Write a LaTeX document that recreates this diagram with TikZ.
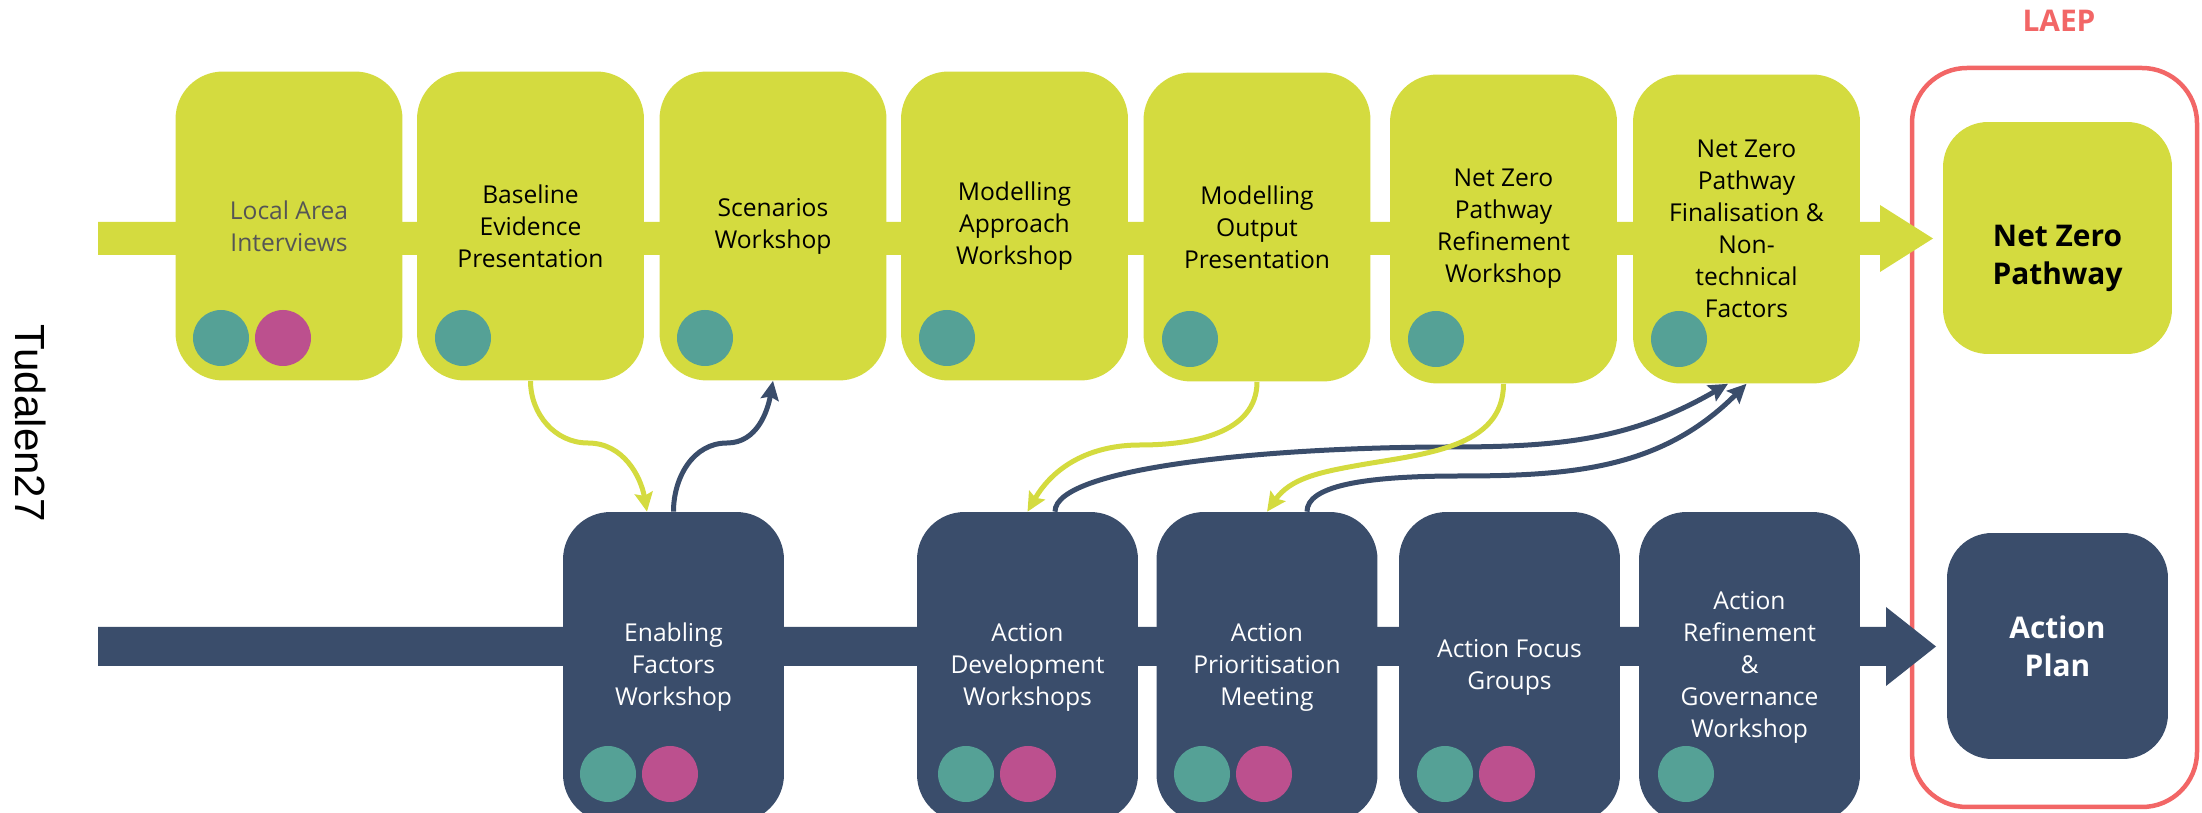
\documentclass[tikz,border=0pt]{standalone}
\usepackage{fontspec}
\setmainfont{Open Sans}
\newfontfamily\tudfont{Liberation Sans}
\usetikzlibrary{arrows.meta}

\definecolor{stagelime}{RGB}{212,219,63}
\definecolor{stagenavy}{RGB}{58,77,107}
\definecolor{dotteal}{RGB}{85,161,150}
\definecolor{dotpink}{RGB}{188,80,142}
\definecolor{laepred}{RGB}{242,102,102}
\definecolor{greytext}{RGB}{85,85,85}

\tikzset{
    stage/.style={rounded corners=0.95cm, align=center, inner sep=0pt,
        font=\fontsize{14}{18.2}\selectfont},
    topstage/.style={stage, fill=stagelime, minimum width=4.54cm, minimum height=6.18cm},
    botstage/.style={stage, fill=stagenavy, text=white, minimum width=4.42cm, minimum height=6.2cm},
    result/.style={rounded corners=0.9cm, align=center, inner sep=0pt,
        font=\fontsize{17}{21.6}\selectfont\bfseries},
    link/.style={line width=0.1cm, -{Stealth[length=0.38cm,width=0.36cm,inset=0.06cm]}},
}

\begin{document}
\begin{tikzpicture}[x=0.02cm,y=-0.02cm]
    \useasboundingbox (0,0) rectangle (2202,813);
    % LAEP frame and side label
    \draw[laepred, line width=0.09cm, rounded corners=1.1cm] (1912,68) rectangle (2197,807);
    \node[text=laepred, font=\fontsize{17}{20}\selectfont\bfseries] (laep) at (2059,21) {LAEP};
    \node[font=\fontsize{24}{28}\selectfont\tudfont, rotate=-90] (tud) at (31,423) {Tudalen27};
    % timeline arrows
    \fill[stagelime] (98,222) -- (1880,222) -- (1880,205) -- (1933,238.5) -- (1880,272) -- (1880,255) -- (98,255) -- cycle;
    \fill[stagenavy] (98,627) -- (1886,627) -- (1886,607) -- (1936,646.5) -- (1886,686) -- (1886,666) -- (98,666) -- cycle;
    % top row
    \node[topstage, text=greytext] (lai) at (289,226) {Local Area\\Interviews};
    \node[topstage] (bep) at (530.5,226) {Baseline\\Evidence\\Presentation};
    \node[topstage] (ssw) at (773,226) {Scenarios\\Workshop};
    \node[topstage] (maw) at (1014.5,226) {Modelling\\Approach\\Workshop};
    \node[topstage] (mop) at (1257,227) {Modelling\\Output\\Presentation};
    \node[topstage] (nzr) at (1503.5,229) {Net Zero\\Pathway\\Refinement\\Workshop};
    \node[topstage] (nzf) at (1746.5,229) {Net Zero\\Pathway\\Finalisation \&\\Non-\\technical\\Factors};
    % bottom row
    \node[botstage] (efw) at (673.5,667) {Enabling\\Factors\\Workshop};
    \node[botstage] (adw) at (1027.5,667) {Action\\Development\\Workshops};
    \node[botstage] (apm) at (1267,667) {Action\\Prioritisation\\Meeting};
    \node[botstage] (afg) at (1509.5,667) {Action Focus\\Groups};
    \node[botstage] (arg) at (1749.5,667) {Action\\Refinement\\\&\\Governance\\Workshop};
    % outputs
    \node[result, fill=stagelime, minimum width=4.58cm, minimum height=4.64cm] (nzp) at (2057.5,238) {};
    \node[result] (nzptext) at (2057.5,258) {Net Zero\\Pathway};
    \node[result, fill=stagenavy, text=white, minimum width=4.42cm, minimum height=4.52cm] (apl) at (2057.5,646) {Action\\Plan};
    % stakeholder dots
    \fill[dotteal] (221,338) circle (28) (463,338) circle (28) (705,338) circle (28) (947,338) circle (28)
        (1190,339) circle (28) (1436,339) circle (28) (1679,339) circle (28);
    \fill[dotpink] (283,338) circle (28);
    \fill[dotteal] (608,774) circle (28) (966,774) circle (28) (1202,774) circle (28) (1445,774) circle (28)
        (1686,774) circle (28);
    \fill[dotpink] (670,774) circle (28) (1028,774) circle (28) (1264,774) circle (28) (1507,774) circle (28);
    % feedback links
    \draw[link, stagelime] (bep.south) to[out=-90,in=180] (588,443) to[out=0,in=100] ([xshift=-0.53cm]efw.north);
    \draw[link, stagenavy] (efw.north) to[out=90,in=180] (727,443) to[out=0,in=-100] (ssw.south);
    \draw[link, stagelime] (mop.south) to[out=-90,in=0] (1140,445) to[out=180,in=60] (adw.north);
    \draw[link, stagenavy] ([xshift=0.55cm]adw.north) to[out=90,in=180,out distance=0.9cm,in distance=3.5cm] (1450,447)
        to[out=0,in=-150] ([xshift=-0.37cm]nzf.south);
    \draw[link, stagelime] (nzr.south) to[out=-90,in=10] (1360,465) to[out=190,in=55] (apm.north);
    \draw[link, stagenavy] ([xshift=0.8cm]apm.north) to[out=90,in=180,out distance=0.5cm,in distance=2cm] (1460,476)
        to[out=0,in=-135] (nzf.south);
\end{tikzpicture}
\end{document}
